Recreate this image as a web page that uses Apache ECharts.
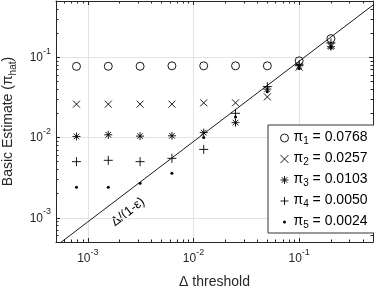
<!DOCTYPE html>
<html>
<head>
<meta charset="utf-8">
<script src="https://cdn.jsdelivr.net/npm/echarts@6/dist/echarts.min.js"></script>
<style>
html,body{margin:0;padding:0;background:#fff;}
#chart{width:374px;height:287px;}
</style>
</head>
<body>
<div id="chart"></div>
<script>
// ---- data ----
const thresholds = [0.00078125, 0.0015625, 0.003125, 0.00625, 0.0125, 0.025, 0.05, 0.1, 0.2];
const pi1 = [0.0768, 0.077, 0.077, 0.078, 0.078, 0.078, 0.078, 0.090, 0.170];
const pi2 = [0.026, 0.026, 0.026, 0.026, 0.027, 0.027, 0.032, 0.075, 0.140];
const pi3 = [0.0103, 0.0108, 0.0104, 0.0105, 0.0115, 0.0153, 0.040, 0.078, 0.135];
const pi4 = [0.0050, 0.0052, 0.0050, 0.0055, 0.0071, 0.020, 0.043, 0.080, 0.150];
const pi5 = [0.0024, 0.0024, 0.0027, 0.0036, 0.0100, 0.018, 0.037, 0.072, 0.130];
const piNames = ['1', '2', '3', '4', '5'];
const piValues = ['0.0768', '0.0257', '0.0103', '0.0050', '0.0024'];
const refLineX = [0.0005, 0.5];
const refLineY = [0.000445, 0.445];
const xRange = [0.0005, 0.5];
const yRange = [0.0005, 0.5];
const xMajor = [0.001, 0.01, 0.1];
const yMajor = [0.001, 0.01, 0.1];
const refLabel = 'Δ/(1-ε)';
const xTitle = 'Δ threshold';

// ---- helpers ----
function minorTicks(range) {
  const out = [];
  for (let e = -5; e <= 1; e++) {
    for (let m = 2; m <= 9; m++) {
      const v = m * Math.pow(10, e);
      if (v > range[0] * 1.0001 && v < range[1] * 0.9999) out.push(v);
    }
  }
  return out;
}
const FONT = 'Liberation Sans, Arial, Helvetica, sans-serif';
const AX = '#262626';
const tickRich = {
  b: {fontSize: 12, fontFamily: FONT, color: AX, verticalAlign: 'bottom', lineHeight: 13},
  e: {fontSize: 9, fontFamily: FONT, color: AX, verticalAlign: 'bottom', lineHeight: 10, padding: [0, 0, 8, 0]}
};
function expFmt(v) {
  const e = Math.round(Math.log10(v));
  return '{b|10}{e|' + e + '}';
}
function makeAxes(dim, range, major, primaryPos, secondaryPos) {
  const base = {type: 'log', logBase: 10, min: range[0], max: range[1], gridIndex: 0, silent: true};
  const lineStyle = {color: AX, width: 1};
  const axes = [];
  axes.push(Object.assign({}, base, {
    position: primaryPos,
    axisLine: {show: true, onZero: false, lineStyle},
    axisTick: {show: true, inside: true, length: 4, customValues: major, lineStyle},
    axisLabel: {show: true, customValues: major, formatter: expFmt, rich: tickRich,
                margin: dim === 'x' ? 10 : 5},
    splitLine: {show: true, lineStyle: {color: '#e3e3e3', width: 1}},
    minorTick: {show: false}
  }));
  axes.push(Object.assign({}, base, {
    position: primaryPos,
    axisLine: {show: false},
    axisTick: {show: true, inside: true, length: 2.5, customValues: minorTicks(range), lineStyle},
    axisLabel: {show: false},
    splitLine: {show: false}
  }));
  axes.push(Object.assign({}, base, {
    position: secondaryPos,
    axisLine: {show: true, onZero: false, lineStyle},
    axisTick: {show: true, inside: true, length: 4, customValues: major, lineStyle},
    axisLabel: {show: false},
    splitLine: {show: false}
  }));
  axes.push(Object.assign({}, base, {
    position: secondaryPos,
    axisLine: {show: false},
    axisTick: {show: true, inside: true, length: 2.5, customValues: minorTicks(range), lineStyle},
    axisLabel: {show: false},
    splitLine: {show: false}
  }));
  return axes;
}

const xAxes = makeAxes('x', xRange, xMajor, 'bottom', 'top');
xAxes[0].name = xTitle;
xAxes[0].nameLocation = 'middle';
xAxes[0].nameGap = 33;
xAxes[0].nameTextStyle = {fontSize: 14, fontFamily: FONT, color: AX};

const yAxes = makeAxes('y', yRange, yMajor, 'left', 'right');
yAxes[0].name = '{a|Basic Estimate (}{p|π}{s|hat}{a|)}';
yAxes[0].nameLocation = 'middle';
yAxes[0].nameRotate = 90;
yAxes[0].nameGap = 36;
yAxes[0].nameTextStyle = {
  fontFamily: FONT, color: AX,
  rich: {
    a: {fontSize: 14, fontFamily: FONT, color: AX, verticalAlign: 'top', lineHeight: 16},
    p: {fontSize: 14, fontFamily: FONT, color: AX, verticalAlign: 'top', lineHeight: 16},
    s: {fontSize: 10, fontFamily: FONT, color: AX, verticalAlign: 'top', lineHeight: 11, padding: [8, 0, 0, 0]}
  }
};

const symbols = {
  circle: 'circle',
  cross: 'path://M0,0L10,10M10,0L0,10',
  star: 'path://M5,0L5,10M0,5L10,5M1.5,1.5L8.5,8.5M8.5,1.5L1.5,8.5',
  plus: 'path://M5,0L5,10M0,5L10,5'
};
const seriesDefs = [
  {vals: pi1, symbol: symbols.circle, size: 8, filled: false},
  {vals: pi2, symbol: symbols.cross, size: 7, filled: false},
  {vals: pi3, symbol: symbols.star, size: 8, filled: false},
  {vals: pi4, symbol: symbols.plus, size: 9, filled: false},
  {vals: pi5, symbol: 'circle', size: 3, filled: true}
];
const legendNames = piNames.map((n, i) => 'π' + n + ' = ' + piValues[i]);
const openStyle = {color: 'rgba(0,0,0,0)', borderColor: '#000', borderWidth: 0.9, opacity: 1};
const dotStyle = {color: '#000', borderWidth: 0, opacity: 1};

const series = seriesDefs.map((d, i) => ({
  name: legendNames[i],
  type: 'scatter',
  xAxisIndex: 0, yAxisIndex: 0,
  data: thresholds.map((x, k) => [x, d.vals[k]]),
  symbol: d.symbol,
  symbolSize: d.size,
  silent: true,
  z: 5,
  itemStyle: d.filled ? dotStyle : openStyle,
  emphasis: {disabled: true}
}));
series.unshift({
  name: 'ref',
  type: 'line',
  xAxisIndex: 0, yAxisIndex: 0,
  data: refLineX.map((x, k) => [x, refLineY[k]]),
  symbol: 'none',
  silent: true,
  clip: true,
  z: 4,
  lineStyle: {color: '#000', width: 0.9},
  emphasis: {disabled: true}
});

const legendData = seriesDefs.map((d, i) => ({
  name: legendNames[i],
  icon: d.symbol,
  itemStyle: d.filled
    ? {color: '#000', borderColor: '#fff', borderWidth: 5}
    : {color: 'rgba(0,0,0,0)', borderColor: '#000', borderWidth: 0.9}
}));

const chart = echarts.init(document.getElementById('chart'), null, {renderer: 'canvas'});
chart.setOption({
  animation: false,
  backgroundColor: '#fff',
  grid: {left: 56, top: 1, width: 317, height: 241, containLabel: false, outerBoundsMode: 'none'},
  xAxis: xAxes,
  yAxis: yAxes,
  legend: {
    data: legendData,
    orient: 'vertical',
    left: 268, top: 125,
    padding: [5, 8, 3, 10],
    itemWidth: 8, itemHeight: 8,
    itemGap: 5,
    backgroundColor: '#fff',
    borderColor: '#333',
    borderWidth: 1,
    borderRadius: 0,
    selectedMode: false,
    formatter: function (name) {
      const i = legendNames.indexOf(name);
      return '{p|π}{s|' + piNames[i] + '}{t| = ' + piValues[i] + '}';
    },
    textStyle: {
      fontFamily: FONT, color: '#000',
      rich: {
        p: {fontSize: 14, fontFamily: FONT, color: '#000', verticalAlign: 'top', lineHeight: 15},
        s: {fontSize: 10, fontFamily: FONT, color: '#000', verticalAlign: 'top', lineHeight: 10, padding: [6, 0, 0, 0]},
        t: {fontSize: 14, fontFamily: FONT, color: '#000', verticalAlign: 'top', lineHeight: 16}
      }
    }
  },
  graphic: [{
    type: 'text',
    x: 128, y: 212,
    rotation: 0.655,
    silent: true,
    style: {text: refLabel, font: '13px ' + FONT, fill: '#000', align: 'center', verticalAlign: 'middle'}
  }],
  series: series
});
</script>
</body>
</html>
